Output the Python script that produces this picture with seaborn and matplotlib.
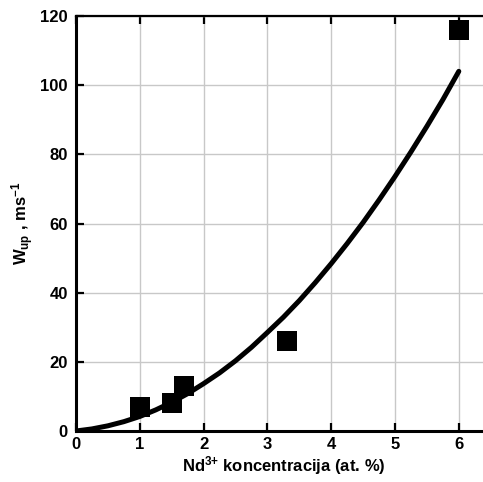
import matplotlib
matplotlib.use("Agg")
import matplotlib.pyplot as plt
import seaborn as sns
import pandas as pd

# Measured upconversion rates vs. Nd3+ concentration
conc = [1.0, 1.5, 1.7, 3.3, 6.0]
w_up = [7.0, 8.0, 13.0, 26.0, 116.0]

# Fitted trend curve, sampled every 0.25 at.%
fit_conc = [0.0, 0.25, 0.5, 0.75, 1.0, 1.25, 1.5, 1.75, 2.0, 2.25, 2.5, 2.75,
            3.0, 3.25, 3.5, 3.75, 4.0, 4.25, 4.5, 4.75, 5.0, 5.25, 5.5, 5.75, 6.0]
fit_w = [0.0, 0.6, 1.5, 2.7, 4.2, 6.1, 8.3, 10.8, 13.7, 16.8, 20.3, 24.2,
         28.5, 32.9, 37.7, 42.9, 48.4, 54.2, 60.3, 66.8, 73.6, 80.7, 88.1, 95.8, 104.0]

x_ticks = [0, 1, 2, 3, 4, 5, 6]
y_ticks = [0, 20, 40, 60, 80, 100, 120]

sns.set_theme(style="whitegrid")
plt.rcParams.update({
    "font.family": ["Liberation Sans", "DejaVu Sans"],
    "font.weight": "bold",
    "mathtext.fontset": "custom",
    "mathtext.rm": "Liberation Sans:bold",
    "mathtext.it": "Liberation Sans:bold",
    "mathtext.bf": "Liberation Sans:bold",
    "mathtext.default": "rm",
})

points = pd.DataFrame({"conc": conc, "w_up": w_up})
curve = pd.DataFrame({"conc": fit_conc, "w_up": fit_w})

fig = plt.figure(figsize=(4.83, 4.82), dpi=100)
ax = fig.add_axes([76 / 483, 51 / 482, 414.7 / 483, 415 / 482])

sns.lineplot(data=curve, x="conc", y="w_up", ax=ax, color="black",
             linewidth=3.6, sort=True, zorder=3)
sns.scatterplot(data=points, x="conc", y="w_up", ax=ax, marker="s", s=195,
                color="black", linewidth=0, zorder=4)

ax.set_xlim(0, 6.5)
ax.set_ylim(0, 120)
ax.set_xticks(x_ticks)
ax.set_yticks(y_ticks)
ax.set_xticklabels([str(t) for t in x_ticks])
ax.set_yticklabels([str(t) for t in y_ticks])

ax.grid(True, color="#c8c8c8", linewidth=1.0)
ax.set_axisbelow(True)
ax.set_facecolor("white")

for side in ["left", "bottom", "right"]:
    ax.spines[side].set_color("black")
    ax.spines[side].set_linewidth(2.2)
ax.spines["top"].set_color("black")
ax.spines["top"].set_linewidth(1.6)

ax.tick_params(axis="both", which="major", direction="in", length=6, width=1.6,
               color="black", labelsize=12, labelcolor="black",
               top=True, right=True, left=True, bottom=True)
ax.tick_params(axis="x", pad=4)
ax.tick_params(axis="y", pad=6)
for lbl in ax.get_xticklabels() + ax.get_yticklabels():
    lbl.set_fontweight("bold")

ax.set_xlabel(r"Nd$^{3{+}}$ koncentracija (at. %)", fontsize=12, fontweight="bold",
              color="black", labelpad=2)
ax.set_ylabel(r"W$_{\mathrm{up}}$ , ms$^{-1}$", fontsize=12, fontweight="bold",
              color="black", labelpad=3)

fig.savefig("out.png", dpi=100, facecolor="white")
